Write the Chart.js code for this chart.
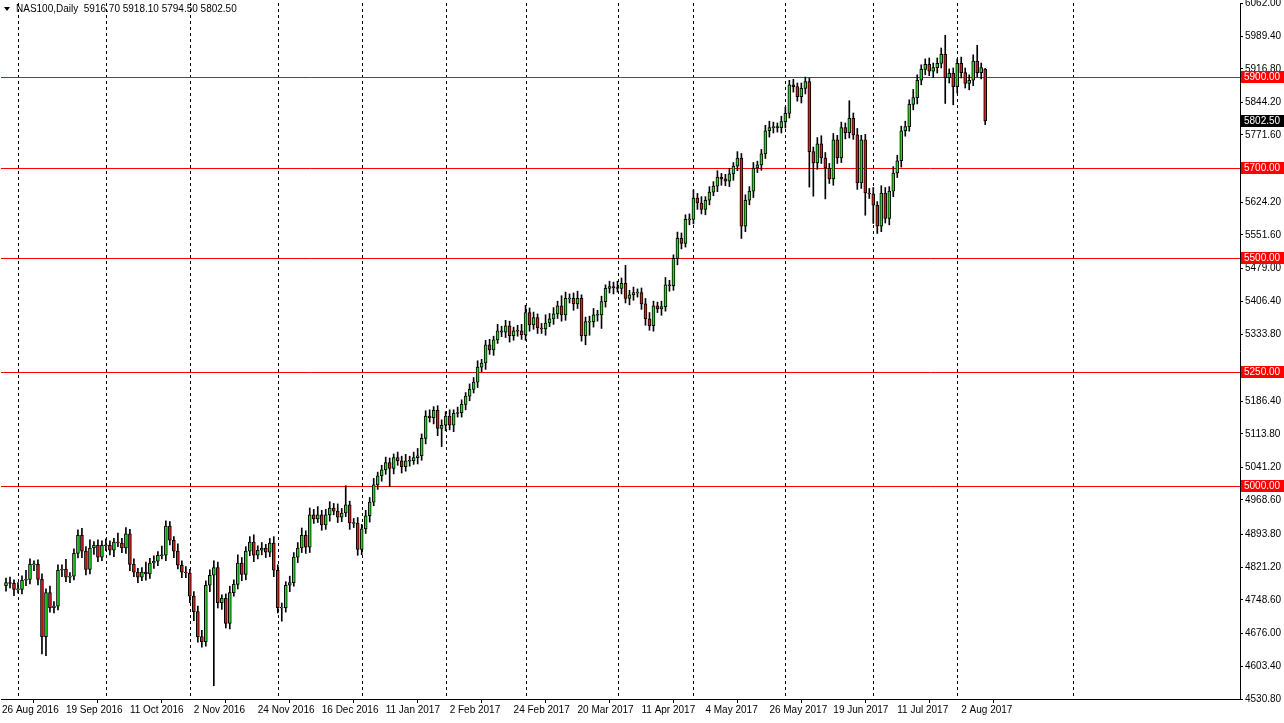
<!DOCTYPE html>
<html><head><meta charset="utf-8">
<script src="https://cdn.jsdelivr.net/npm/chart.js@4"></script>
<style>html,body{margin:0;padding:0;background:#fff;overflow:hidden}</style>
</head><body>
<canvas id="c" width="1284" height="723"></canvas>
<script>
const closes = [
4787,4785,4772,4772,4792,4794,4827,4827,4794,4668,
4765,4732,4735,4814,4816,4799,4801,4851,4891,4856,
4816,4863,4869,4843,4869,4869,4858,4876,4874,4863,
4894,4827,4810,4799,4810,4806,4830,4834,4847,4847,
4911,4880,4856,4825,4810,4808,4757,4723,4668,4657,
4781,4803,4820,4743,4752,4697,4765,4783,4830,4805,
4856,4876,4847,4858,4863,4854,4874,4814,4732,4732,
4781,4787,4843,4863,4891,4865,4936,4927,4936,4914,
4936,4951,4944,4931,4940,4958,4918,4918,4860,4905,
4934,4964,5002,5022,5035,5051,5038,5062,5055,5042,
5055,5055,5062,5066,5104,5153,5150,5166,5126,5133,
5153,5133,5159,5161,5179,5197,5212,5228,5261,5270,
5310,5299,5321,5341,5338,5352,5330,5341,5341,5332,
5381,5354,5370,5347,5345,5358,5367,5378,5396,5376,
5412,5412,5400,5412,5330,5361,5361,5376,5376,5405,
5434,5438,5436,5434,5445,5412,5420,5425,5425,5400,
5367,5352,5396,5389,5394,5442,5440,5500,5544,5533,
5586,5586,5633,5622,5608,5628,5646,5659,5679,5675,
5670,5686,5703,5721,5571,5628,5648,5699,5706,5730,
5781,5788,5790,5788,5801,5819,5882,5878,5856,5874,
5889,5735,5710,5752,5721,5699,5675,5761,5721,5788,
5777,5808,5772,5666,5761,5644,5642,5617,5571,5644,
5588,5648,5688,5715,5781,5790,5839,5854,5892,5916,
5927,5912,5920,5929,5949,5898,5907,5878,5929,5909,
5885,5892,5934,5909,5920,5802.5];
const opens = [
4780,4787,4785,4772,4772,4792,4794,4827,4827,4794,
4668,4765,4732,4735,4814,4816,4799,4801,4851,4891,
4856,4816,4863,4869,4843,4869,4869,4858,4876,4874,
4863,4894,4827,4810,4799,4810,4806,4830,4834,4847,
4847,4911,4880,4856,4825,4810,4808,4757,4723,4668,
4657,4781,4803,4820,4743,4752,4697,4765,4783,4830,
4805,4856,4876,4847,4858,4863,4854,4874,4814,4732,
4732,4781,4787,4843,4863,4891,4865,4936,4927,4936,
4914,4936,4951,4944,4931,4940,4958,4918,4918,4860,
4905,4934,4964,5002,5022,5035,5051,5038,5062,5055,
5042,5055,5055,5062,5066,5104,5153,5150,5166,5126,
5133,5153,5133,5159,5161,5179,5197,5212,5228,5261,
5270,5310,5299,5321,5341,5338,5352,5330,5341,5341,
5332,5381,5354,5370,5347,5345,5358,5367,5378,5396,
5376,5412,5412,5400,5412,5330,5361,5361,5376,5376,
5405,5434,5438,5436,5434,5445,5412,5420,5425,5425,
5400,5367,5352,5396,5389,5394,5442,5440,5500,5544,
5533,5586,5586,5633,5622,5608,5628,5646,5659,5679,
5675,5670,5686,5703,5721,5571,5628,5648,5699,5706,
5730,5781,5788,5790,5788,5801,5819,5882,5878,5856,
5874,5889,5735,5710,5752,5721,5699,5675,5761,5721,
5788,5777,5808,5772,5666,5761,5644,5642,5617,5571,
5644,5588,5648,5688,5715,5781,5790,5839,5854,5892,
5916,5927,5912,5920,5929,5949,5898,5907,5878,5929,
5909,5885,5892,5934,5909,5916.7];
const wickUp = [
10,12,8,15,10,20,12,8,10,12, 8,14,10,12,10,22,8,10,12,15,
10,18,8,12,10,14,10,8,20,10, 14,10,12,8,10,22,10,12,8,20,
12,10,8,16,10,12,8,10,12,14, 10,12,15,12,8,10,14,10,18,12,
10,12,16,10,12,8,10,14,12,10, 8,14,10,12,16,10,15,12,18,10,
12,14,10,16,10,42,8,10,12,10, 12,10,14,8,10,12,10,8,12,10,
14,10,12,16,10,12,14,8,10,12, 10,14,8,12,10,8,12,10,14,8,
10,12,8,14,10,12,10,8,12,14, 16,10,12,8,10,18,12,14,10,22,
14,10,12,16,8,10,12,14,10,12, 8,12,10,14,12,40,10,12,8,10,
12,14,10,8,12,16,10,8,14,12, 10,12,18,10,14,8,12,10,14,8,
10,12,8,14,10,12,10,12,8,10, 12,14,10,8,12,14,10,12,8,12,
10,8,10,14,18,12,10,14,10,12, 10,39,12,14,10,12,10,14,8,16,
12,10,14,12,10,12,10,18,12,10, 12,14,10,12,14,42,10,12,10,14,
10,12,14,35,10,1.4];
const wickDn = [
12,10,14,8,10,12,10,14,12,38, 42,10,12,8,14,10,12,8,10,14,
12,10,14,10,8,12,10,14,8,10, 12,14,10,12,8,14,10,12,10,8,
12,10,14,8,12,10,14,20,12,12, 10,14,243,12,15,10,12,8,10,14,
12,10,14,8,10,12,10,14,12,30, 10,14,8,12,10,14,12,10,8,12,
10,14,8,12,10,8,14,10,13,12, 10,14,8,10,12,10,40,12,10,14,
10,12,8,14,10,12,10,14,16,40, 12,10,14,8,10,12,10,8,12,10,
14,10,12,8,10,12,14,10,12,10, 12,14,10,12,10,14,8,12,10,14,
12,10,14,10,12,20,30,12,14,30, 12,10,14,8,12,10,14,12,10,12,
14,10,12,8,14,10,12,10,14,12, 8,12,10,14,10,12,10,8,12,14,
10,12,14,10,27,12,10,14,10,12, 10,14,12,10,12,14,10,12,10,14,
12,78,73,14,12,68,10,14,12,10, 14,12,10,14,12,49,10,40,16,12,
10,14,12,10,14,12,10,12,14,10, 12,10,14,12,10,57,12,40,14,12,
10,14,12,10,14,8];
const dateTickIdx = [-1,15,31,47,63,79,95,111,127,143,159,175,191,207,223,239];
const dateLabels = ['26 Aug 2016','19 Sep 2016','11 Oct 2016','2 Nov 2016','24 Nov 2016','16 Dec 2016','11 Jan 2017','2 Feb 2017','24 Feb 2017','20 Mar 2017','11 Apr 2017','4 May 2017','26 May 2017','19 Jun 2017','11 Jul 2017','2 Aug 2017'];
const gridIdx = [3,25,46,68,89,110,130,153,172,195,217,238,267];
const priceTicks = [6062,5989.4,5916.8,5844.2,5771.6,5624.2,5551.6,5479,5406.4,5333.8,5186.4,5113.8,5041.2,4968.6,4893.8,4821.2,4748.6,4676,4603.4,4530.8];
const levels = [5900,5700,5500,5250,5000];
const lastPrice = 5802.5;
const title = 'NAS100,Daily  5916.70 5918.10 5794.50 5802.50';

const FONT = '"Liberation Sans", Arial, sans-serif';
const wickData = [], bodyData = [], bodyColors = [];
for (let i = 0; i < closes.length; i++) {
  const o = opens[i], c = closes[i];
  const hi = Math.max(o, c) + wickUp[i], lo = Math.min(o, c) - wickDn[i];
  wickData.push({x: i, y: [lo, hi]});
  let a = Math.min(o, c), b = Math.max(o, c);
  if (b - a < 2) { a -= 1; b += 1; }
  bodyData.push({x: i, y: [a, b]});
  bodyColors.push(c >= o ? 'rgb(30,225,30)' : 'rgb(220,30,30)');
}

const overlay = {
  id: 'overlay',
  beforeDatasetsDraw(chart) {
    const {ctx, chartArea: a, scales: {x, y}} = chart;
    ctx.save();
    ctx.strokeStyle = '#000'; ctx.lineWidth = 1; ctx.setLineDash([3, 3]);
    gridIdx.forEach(g => {
      const px = Math.round(x.getPixelForValue(g)) + 0.5;
      ctx.beginPath(); ctx.moveTo(px, a.top); ctx.lineTo(px, a.bottom); ctx.stroke();
    });
    ctx.setLineDash([]);
    ctx.strokeStyle = '#ff0000';
    levels.forEach(l => {
      const py = Math.round(y.getPixelForValue(l)) + 0.5;
      ctx.beginPath(); ctx.moveTo(a.left, py); ctx.lineTo(a.right, py); ctx.stroke();
    });
    ctx.restore();
  },
  afterDraw(chart) {
    const {ctx, chartArea: a, scales: {y}} = chart;
    ctx.save();
    ctx.font = '10px ' + FONT; ctx.textBaseline = 'middle';
    const box = (v, bg) => {
      const py = Math.round(y.getPixelForValue(v));
      ctx.fillStyle = bg; ctx.fillRect(a.right + 1, py - 6, 43, 12);
      ctx.fillStyle = '#fff'; ctx.fillText(v.toFixed(2), a.right + 4, py + 0.5);
    };
    levels.forEach(l => box(l, '#ff0000'));
    box(lastPrice, '#000');
    ctx.fillStyle = '#000';
    ctx.beginPath(); ctx.moveTo(4, 7); ctx.lineTo(10, 7); ctx.lineTo(7, 11); ctx.closePath(); ctx.fill();
    ctx.fillText(title, 16, 9.5);
    ctx.restore();
  }
};

new Chart(document.getElementById('c'), {
  type: 'bar',
  data: { datasets: [
    { data: wickData, backgroundColor: '#000', barThickness: 1, grouped: false, order: 2 },
    { data: bodyData, backgroundColor: bodyColors, borderColor: '#000', borderWidth: 1, borderSkipped: false, barThickness: 3, grouped: false, order: 1 }
  ]},
  options: {
    responsive: false, animation: false, devicePixelRatio: 1,
    layout: { padding: { top: 3, left: 1, right: 0, bottom: 0 } },
    plugins: { legend: { display: false }, tooltip: { enabled: false } },
    scales: {
      x: {
        type: 'linear', min: -1.25, max: 308.75, offset: false,
        afterFit(s) { s.height = 24; s.paddingLeft = 0; s.paddingRight = 0; },
        afterBuildTicks(s) { s.ticks = dateTickIdx.map(v => ({value: v})); },
        ticks: { autoSkip: false, maxRotation: 0, align: 'start', padding: 1, color: '#000', font: { size: 10, family: FONT },
          callback: (v) => { const k = dateTickIdx.indexOf(v); return k >= 0 ? dateLabels[k] : ''; } },
        grid: { drawOnChartArea: false, tickLength: 4, color: '#000' },
        border: { color: '#000', width: 1 }
      },
      y: {
        position: 'right', min: 4530.8, max: 6062,
        afterFit(s) { s.width = 44; s.paddingTop = 0; s.paddingBottom = 0; },
        afterBuildTicks(s) { s.ticks = priceTicks.map(v => ({value: v})); },
        ticks: { autoSkip: false, padding: 2, color: '#000', font: { size: 10, family: FONT }, callback: v => Number(v).toFixed(2) },
        grid: { drawOnChartArea: false, tickLength: 3, color: '#000' },
        border: { color: '#000', width: 1 }
      }
    }
  },
  plugins: [overlay]
});
</script>
</body></html>
